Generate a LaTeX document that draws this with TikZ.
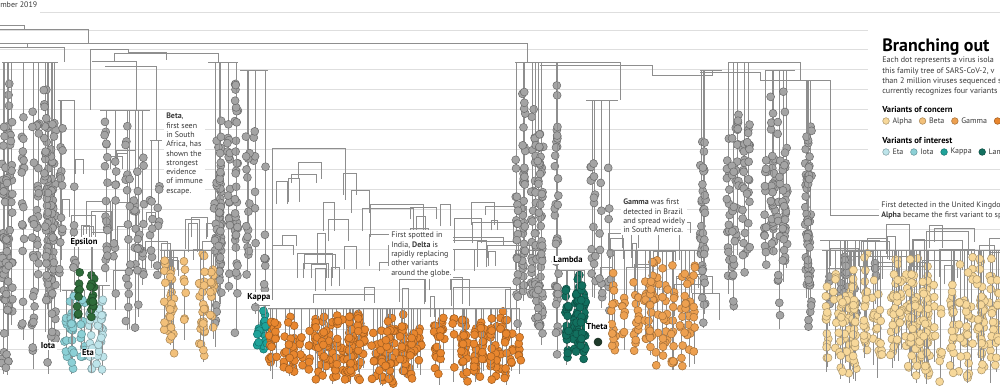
\documentclass[tikz,border=0pt]{standalone}
\usepackage{fontspec}
\setmainfont{PT Sans}
\usepackage{tikz}
\usetikzlibrary{positioning}

\definecolor{gridgray}{HTML}{DEDEDE}
\definecolor{linegray}{HTML}{8E8E8E}
\definecolor{dotgray}{HTML}{A4A4A4}
\definecolor{dotedge}{HTML}{6C6C6C}
\definecolor{textgray}{HTML}{3A3A3A}
\definecolor{alphaC}{HTML}{F7D89A}
\definecolor{betaC}{HTML}{F2C07A}
\definecolor{gammaC}{HTML}{EDA050}
\definecolor{deltaC}{HTML}{E8862E}
\definecolor{etaC}{HTML}{BDE4EA}
\definecolor{iotaC}{HTML}{8CD0D6}
\definecolor{kappaC}{HTML}{1FA39A}
\definecolor{lambdaC}{HTML}{12705F}
\definecolor{epsilonC}{HTML}{2E6B3A}
\definecolor{thetaC}{HTML}{1E3A2A}

\tikzset{
  branch/.style={draw=linegray, line width=0.45pt},
  gridline/.style={draw=gridgray, line width=0.5pt},
  gdot/.style={fill=dotgray, draw=dotedge, line width=0.4pt},
  cdot/.style={fill=#1, draw=#1!70!black, line width=0.4pt},
  note/.style={fill=white, inner sep=1.5pt, align=left, anchor=north west,
    text=textgray, font=\fontsize{6}{7}\selectfont},
  tag/.style={fill=white, inner sep=1pt, text=black,
    font=\bfseries\fontsize{6.5}{7}\selectfont},
  keydot/.style={circle, inner sep=0pt, minimum size=5pt, fill=#1,
    draw=#1!70!black, line width=0.4pt},
  keytext/.style={inner sep=1pt, text=textgray, font=\fontsize{6}{7}\selectfont}
}

% columns of isolates: x0 x1 top bottom columns dots style
\newcommand\clade[7]{%
  \foreach \ci in {1,...,#5}{%
    \pgfmathsetmacro\cx{#1+rnd*(#2-#1)}%
    \pgfmathsetmacro\ct{#3+rnd*0.35*(#4-#3)}%
    \pgfmathsetmacro\cb{#4-rnd*0.3*(#4-#3)}%
    \draw[branch] (\cx,#3) -- (\cx,\cb);%
    \foreach \di in {1,...,#6}{%
      \pgfmathsetmacro\dy{\ct+rnd*(\cb-\ct)}%
      \path[#7] (\cx+rnd*3-1.5,\dy) circle[radius=3pt];%
    }%
  }%
  \draw[branch] (#1,#3) -- (#2,#3);%
}
% nested brackets of the tree: x0 x1 y0 y1 count
\newcommand\treesteps[5]{%
  \foreach \si in {1,...,#5}{%
    \pgfmathsetmacro\sx{#1+rnd*(#2-#1)}%
    \pgfmathsetmacro\sw{4+rnd*0.25*(#2-#1)}%
    \pgfmathsetmacro\sy{#3+rnd*(#4-#3)}%
    \pgfmathsetmacro\sh{8+rnd*25}%
    \draw[branch] (\sx,\sy+\sh) |- (\sx+\sw,\sy) -- (\sx+\sw,\sy+\sh);%
  }%
}

\begin{document}
\begin{tikzpicture}[x=0.0265cm, y=-0.0265cm]
  \pgfmathsetseed{2021}
  \useasboundingbox (0,0) rectangle (1000,390);
  \fill[white] (0,0) rectangle (1000,390);
  \clip (0,0) rectangle (1000,390);

  % time grid
  \node[keytext, anchor=west, inner sep=0pt] (date) at (0,5) {mber 2019};
  \draw[gridline] (40,12) -- (1000,12);
  \foreach \gy in {30,49,69,89,109,129,149,169,189,209,229,249,269,289,309,329,349,369}{
    \pgfmathsetmacro\gx{\gy<160 ? 868 : 1000}
    \draw[gridline] (0,\gy) -- (\gx,\gy);
  }

  % backbone
  \draw[branch] (0,25) -| (24,29);
  \draw[branch] (0,29) -| (88,43);
  \draw[branch] (0,43) -| (527,62);
  \draw[branch] (27,43) -- (27,47);
  \draw[branch] (0,47) -| (64,62);
  \draw[branch] (90,49) -| (128,52) -| (166,60);
  \draw[branch] (90,49) -- (90,110);
  \draw[branch] (114,53) -| (218,62);
  \draw[branch] (114,53) -- (114,62);
  \draw[branch] (92,61) -| (136,110);
  \draw[branch] (105,66) -| (156,140);
  \draw[branch] (272,148) -| (345,200);
  \draw[branch] (272,148) -- (272,300);
  \draw[branch] (527,62) -| (620,100);
  \draw[branch] (540,65) -| (652,75);
  \draw[branch] (652,75) -| (712,70);
  \draw[branch] (700,72) -| (760,80);
  \draw[branch] (740,62) -| (800,80);
  \draw[branch] (760,80) -| (830,215);
  \draw[branch] (830,215) -| (1000,230);

  % inner tree structure
  \treesteps{60}{150}{150}{290}{16}
  \treesteps{160}{215}{215}{270}{10}
  \treesteps{272}{360}{160}{290}{14}
  \treesteps{290}{520}{200}{300}{36}
  \treesteps{600}{700}{220}{300}{18}
  \treesteps{820}{1000}{220}{270}{26}

  % gray isolates
  \clade{2}{58}{62}{380}{14}{18}{gdot}
  \clade{58}{75}{100}{300}{3}{7}{gdot}
  \clade{100}{150}{110}{330}{8}{9}{gdot}
  \clade{150}{162}{140}{280}{2}{7}{gdot}
  \clade{208}{238}{62}{360}{7}{18}{gdot}
  \clade{240}{268}{70}{330}{4}{8}{gdot}
  \clade{515}{558}{62}{370}{10}{18}{gdot}
  \clade{586}{618}{100}{330}{4}{8}{gdot}
  \clade{700}{722}{70}{330}{3}{13}{gdot}
  \clade{728}{750}{62}{330}{5}{16}{gdot}
  \clade{765}{795}{70}{330}{6}{15}{gdot}
  \clade{798}{820}{80}{330}{5}{12}{gdot}
  \clade{820}{880}{240}{330}{7}{5}{gdot}

  % variants
  \clade{62}{85}{290}{378}{6}{7}{cdot=iotaC}
  \clade{88}{110}{285}{378}{6}{7}{cdot=etaC}
  \clade{78}{95}{245}{340}{3}{8}{cdot=epsilonC}
  \clade{160}{215}{250}{362}{12}{7}{cdot=betaC}
  \clade{255}{270}{305}{362}{3}{7}{cdot=kappaC}
  \clade{268}{520}{308}{386}{75}{6}{cdot=deltaC}
  \clade{555}{585}{270}{372}{8}{11}{cdot=lambdaC}
  \path[cdot=thetaC] (598,342) circle[radius=3pt];
  \clade{608}{700}{250}{372}{18}{8}{cdot=gammaC}
  \clade{822}{1000}{250}{384}{60}{7}{cdot=alphaC}

  % annotations
  \node[note] (betanote) at (164,111) {\textbf{Beta},\\first seen\\in South\\Africa, has\\shown the\\strongest\\evidence\\of immune\\escape.};
  \node[note] (deltanote) at (389,230) {First spotted in\\India, \textbf{Delta} is\\rapidly replacing\\other variants\\around the globe.};
  \node[note] (gammanote) at (621,197) {\textbf{Gamma} was first\\detected in Brazil\\and spread widely\\in South America.};
  \node[note] (alphanote) at (879,200) {First detected in the United Kingdom,\\\textbf{Alpha} became the first variant to sp};

  \node[tag] (epsilon) at (84,242) {Epsilon};
  \node[tag] (iota) at (48,346) {Iota};
  \node[tag] (eta) at (88,353) {Eta};
  \node[tag] (kappa) at (259,297) {Kappa};
  \node[tag] (lambda) at (568,260) {Lambda};
  \node[tag] (theta) at (597,327) {Theta};

  % legend
  \node[anchor=west, inner sep=0pt, font=\bfseries\fontsize{13.5}{14}\selectfont] (title) at (882,47) {Branching out};
  \node[note, fill=none, inner sep=0pt, font=\fontsize{6.1}{7.7}\selectfont] (intro) at (882,57) {Each dot represents a virus isola\\this family tree of SARS-CoV-2, v\\than 2 million viruses sequenced s\\currently recognizes four variants};
  \node[anchor=west, inner sep=0pt, font=\bfseries\fontsize{6.5}{7}\selectfont] (concern) at (882,109) {Variants of concern};
  \node[keydot=alphaC] (kalpha) at (886,121) {};
  \node[keytext, right=1pt of kalpha] (talpha) {Alpha};
  \node[keydot=betaC, right=4pt of talpha] (kbeta) {};
  \node[keytext, right=1pt of kbeta] (tbeta) {Beta};
  \node[keydot=gammaC, right=4pt of tbeta] (kgamma) {};
  \node[keytext, right=1pt of kgamma] (tgamma) {Gamma};
  \node[keydot=deltaC, right=4pt of tgamma] (kdelta) {};
  \node[anchor=west, inner sep=0pt, font=\bfseries\fontsize{6.5}{7}\selectfont] (interest) at (882,140) {Variants of interest};
  \node[keydot=etaC] (keta) at (886,152) {};
  \node[keytext, right=1pt of keta] (teta) {Eta};
  \node[keydot=iotaC, right=4pt of teta] (kiota) {};
  \node[keytext, right=1pt of kiota] (tiota) {Iota};
  \node[keydot=kappaC, right=4pt of tiota] (kkappa) {};
  \node[keytext, right=1pt of kkappa] (tkappa) {Kappa};
  \node[keydot=lambdaC, right=4pt of tkappa] (klambda) {};
  \node[keytext, right=1pt of klambda] (tlambda) {Lamb};
\end{tikzpicture}
\end{document}
